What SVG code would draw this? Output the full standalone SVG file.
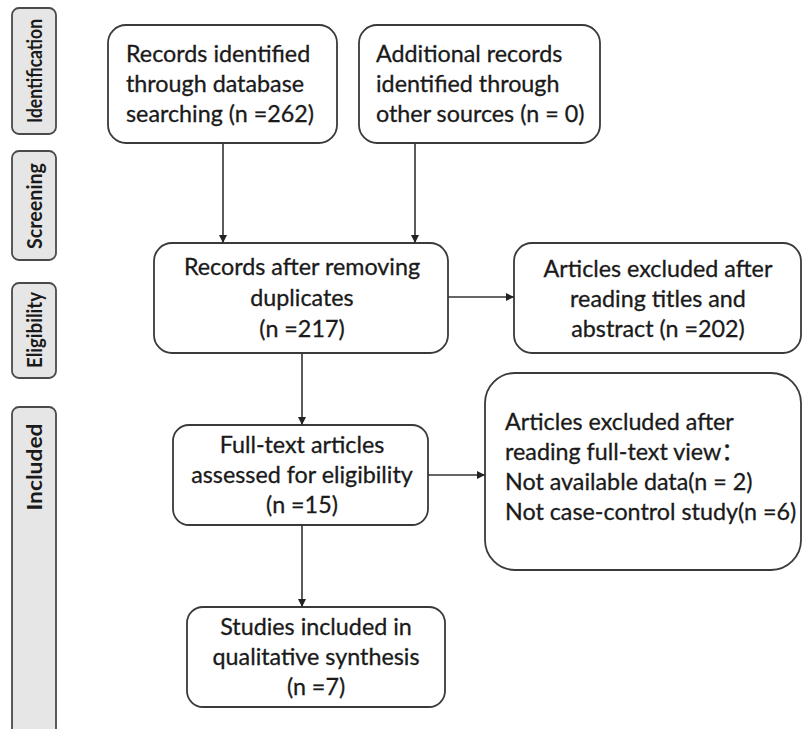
<svg xmlns="http://www.w3.org/2000/svg" width="802" height="729" viewBox="0 0 802 729">
<style>
.box{fill:#fff;stroke:#3a3a3a;stroke-width:1.8}
.lab{fill:#e6e6e6;stroke:#4a4a4a;stroke-width:1.8}
.t{font-family:Lato,"Noto Sans","Liberation Sans","Noto Sans CJK SC",sans-serif;font-size:23.3px;fill:#1a1a1a;stroke:#1a1a1a;stroke-width:0.3}
.c{text-anchor:middle}
.lt{font-family:Lato,"Liberation Sans",sans-serif;font-weight:bold;font-size:20px;fill:#1a1a1a;text-anchor:middle}
.ln{stroke:#333;stroke-width:1.6;fill:none}
</style>
<defs>
<marker id="ah" viewBox="0 0 10 10" refX="10" refY="5" markerWidth="8" markerHeight="8" markerUnits="userSpaceOnUse" orient="auto">
<path d="M0,0 L10,5 L0,10 Z" fill="#222"/>
</marker>
</defs>

<g id="stage-identification">
<rect class="lab" x="12" y="8" width="44" height="126" rx="7"/>
<text class="lt" transform="translate(42,71) rotate(-90)" textLength="104" lengthAdjust="spacingAndGlyphs">Identification</text>
</g>
<g id="stage-screening">
<rect class="lab" x="12" y="151" width="44" height="109" rx="7"/>
<text class="lt" transform="translate(42,206) rotate(-90)" textLength="86" lengthAdjust="spacingAndGlyphs">Screening</text>
</g>
<g id="stage-eligibility">
<rect class="lab" x="12" y="283" width="44" height="95" rx="7"/>
<text class="lt" transform="translate(42,330) rotate(-90)" textLength="76" lengthAdjust="spacingAndGlyphs">Eligibility</text>
</g>
<g id="stage-included">
<rect class="lab" x="12" y="407" width="44" height="330" rx="7"/>
<text class="lt" transform="translate(42,467) rotate(-90)" textLength="87" lengthAdjust="spacingAndGlyphs">Included</text>
</g>

<g id="records-db">
<rect class="box" x="108" y="25" width="229" height="118" rx="18"/>
<text class="t" x="126" y="62">Records identified</text>
<text class="t" x="126" y="92">through database</text>
<text class="t" x="126" y="122">searching (n =262)</text>
</g>
<g id="records-other">
<rect class="box" x="359" y="25" width="241" height="118" rx="18"/>
<text class="t" x="376" y="62">Additional records</text>
<text class="t" x="376" y="92">identified through</text>
<text class="t" x="376" y="122">other sources (n = 0)</text>
</g>
<g id="records-dedup">
<rect class="box" x="154" y="243" width="294" height="110" rx="18"/>
<text class="t c" x="302" y="275">Records after removing</text>
<text class="t c" x="302" y="306">duplicates</text>
<text class="t c" x="302" y="337">(n =217)</text>
</g>
<g id="excluded-abstract">
<rect class="box" x="514" y="243" width="287" height="110" rx="18"/>
<text class="t c" x="658" y="277">Articles excluded after</text>
<text class="t c" x="658" y="307">reading titles and</text>
<text class="t c" x="658" y="337">abstract (n =202)</text>
</g>
<g id="fulltext">
<rect class="box" x="173" y="425" width="255" height="100" rx="16"/>
<text class="t c" x="302" y="453">Full-text articles</text>
<text class="t c" x="302" y="483">assessed for eligibility</text>
<text class="t c" x="302" y="513">(n =15)</text>
</g>
<g id="excluded-fulltext">
<rect class="box" x="485" y="373" width="316" height="197" rx="30"/>
<text class="t" x="505" y="430">Articles excluded after</text>
<text class="t" x="505" y="460">reading full-text view：</text>
<text class="t" x="505" y="490">Not available data(n = 2)</text>
<text class="t" x="505" y="520">Not case-control study(n =6)</text>
</g>
<g id="included">
<rect class="box" x="187" y="607" width="258" height="100" rx="16"/>
<text class="t c" x="316" y="635">Studies included in</text>
<text class="t c" x="316" y="665">qualitative synthesis</text>
<text class="t c" x="316" y="695">(n =7)</text>
</g>

<g id="connectors">
<line class="ln" x1="223" y1="143" x2="223" y2="243" marker-end="url(#ah)"/>
<line class="ln" x1="415" y1="143" x2="415" y2="243" marker-end="url(#ah)"/>
<line class="ln" x1="448" y1="297" x2="514" y2="297" marker-end="url(#ah)"/>
<line class="ln" x1="302" y1="353" x2="302" y2="425" marker-end="url(#ah)"/>
<line class="ln" x1="428" y1="475" x2="485" y2="475" marker-end="url(#ah)"/>
<line class="ln" x1="302" y1="525" x2="302" y2="607" marker-end="url(#ah)"/>
</g>
</svg>
